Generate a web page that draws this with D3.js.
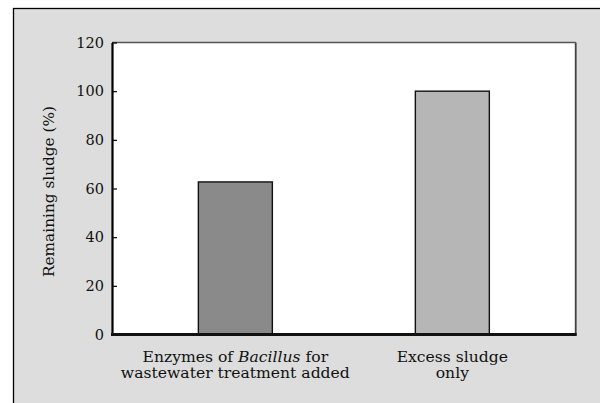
<!DOCTYPE html>
<html><head><meta charset="utf-8">
<script src="https://cdn.jsdelivr.net/npm/d3@7/dist/d3.min.js"></script>
<style>html,body{margin:0;padding:0;background:#fff;}svg{display:block;}</style>
</head><body>
<svg id="chart" width="600" height="403"></svg>
<script>
const categories = ["Enzymes of Bacillus for wastewater treatment added", "Excess sludge only"];
const values = [62.7, 100];
const barColors = ["#8a8a8a", "#b5b6b5"];
const yTicks = [0, 20, 40, 60, 80, 100, 120];
const yLabel = "Remaining sludge (%)";

const svg = d3.select("#chart");
const font = "DejaVu Serif, serif";
const m = {left: 112, top: 42.5, right: 575.7, bottom: 334.5};

// panel
svg.append("rect").attr("x", 13.5).attr("y", 8.5).attr("width", 620).attr("height", 420)
  .attr("fill", "#dcdddc").attr("stroke", "#000").attr("stroke-width", 1.3);

const x = d3.scaleBand().domain(categories).range([m.left, m.right])
  .paddingInner(0.659).paddingOuter(0.398);
const y = d3.scaleLinear().domain([0, 120]).range([m.bottom, m.top]);

// plot area
svg.append("rect").attr("x", m.left).attr("y", m.top)
  .attr("width", m.right - m.left).attr("height", m.bottom - m.top)
  .attr("fill", "#fff");
svg.append("line").attr("x1", m.left).attr("x2", m.right).attr("y1", m.top).attr("y2", m.top)
  .attr("stroke", "#555").attr("stroke-width", 1.5);
svg.append("line").attr("x1", m.right).attr("x2", m.right).attr("y1", m.top).attr("y2", m.bottom)
  .attr("stroke", "#444").attr("stroke-width", 1.8);

// bars
svg.selectAll("rect.bar").data(categories).enter().append("rect").attr("class", "bar")
  .attr("x", d => x(d)).attr("width", x.bandwidth())
  .attr("y", (d, i) => y(values[i])).attr("height", (d, i) => y(0) - y(values[i]))
  .attr("fill", (d, i) => barColors[i]).attr("stroke", "#111").attr("stroke-width", 1.4);

// y axis
const yAxis = d3.axisLeft(y).tickValues(yTicks).tickSizeInner(-5).tickSizeOuter(0).tickPadding(8);
const ya = svg.append("g").attr("transform", `translate(${m.left},0)`).call(yAxis);
ya.select(".domain").attr("stroke", "#000").attr("stroke-width", 2.2);
ya.selectAll(".tick line").attr("stroke", "#000").attr("stroke-width", 1.2);
ya.selectAll(".tick text").attr("font-family", font).attr("font-size", 14.5).attr("fill", "#111");

// x axis baseline
const xAxis = d3.axisBottom(x).tickSize(0).tickFormat("");
const xa = svg.append("g").attr("transform", `translate(0,${m.bottom})`).call(xAxis);
xa.select(".domain").attr("stroke", "#111").attr("stroke-width", 2.8)
  .attr("d", `M${m.left - 1},0H${m.right + 1}`);

// x labels
const lbl = svg.append("g").attr("font-family", font).attr("font-size", 15.6).attr("fill", "#111")
  .attr("text-anchor", "middle");
const c0 = x(categories[0]) + x.bandwidth() / 2;
const c1 = x(categories[1]) + x.bandwidth() / 2;
const t0 = lbl.append("text").attr("x", c0).attr("y", 361.5);
t0.append("tspan").text("Enzymes of ");
t0.append("tspan").attr("font-style", "italic").text("Bacillus");
t0.append("tspan").text(" for");
lbl.append("text").attr("x", c0).attr("y", 378).text("wastewater treatment added");
lbl.append("text").attr("x", c1).attr("y", 361.5).text("Excess sludge");
lbl.append("text").attr("x", c1).attr("y", 378).text("only");

// y label
svg.append("text").attr("transform", `translate(54,${(m.top + m.bottom) / 2 + 3}) rotate(-90)`)
  .attr("text-anchor", "middle").attr("font-family", font).attr("font-size", 15.3).attr("fill", "#111")
  .text(yLabel);
</script>
</body></html>
